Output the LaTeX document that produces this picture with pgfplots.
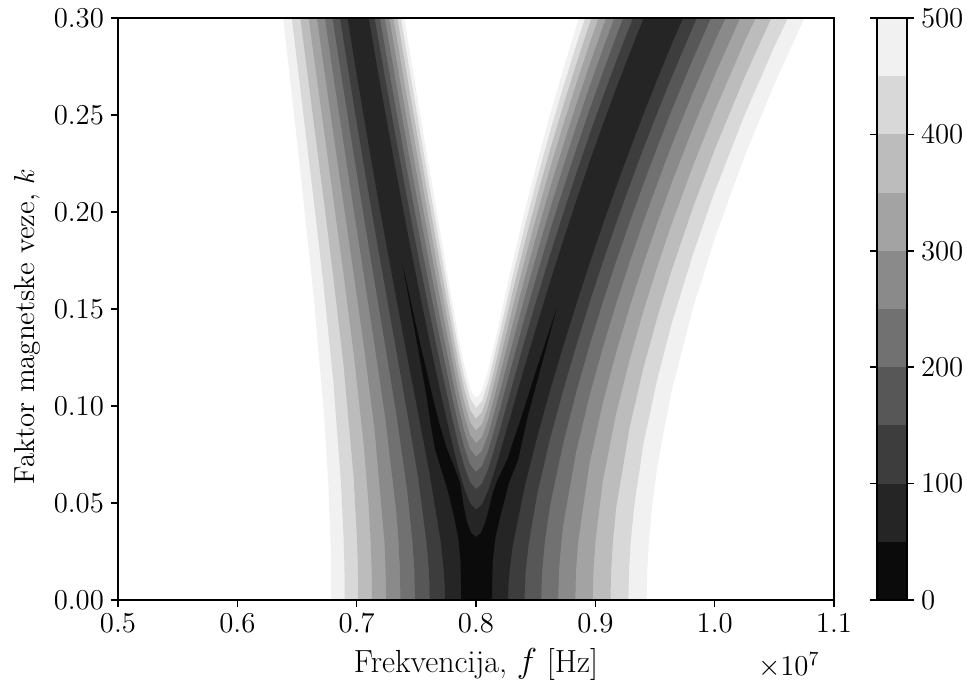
\documentclass[border=0pt]{standalone}
\usepackage{pgfplots}
\pgfplotsset{compat=1.18}
\definecolor{c0}{HTML}{0B0B0B}
\definecolor{c1}{HTML}{252525}
\definecolor{c2}{HTML}{3D3D3D}
\definecolor{c3}{HTML}{575757}
\definecolor{c4}{HTML}{717171}
\definecolor{c5}{HTML}{8A8A8A}
\definecolor{c6}{HTML}{A3A3A3}
\definecolor{c7}{HTML}{BCBCBC}
\definecolor{c8}{HTML}{D8D8D8}
\definecolor{c9}{HTML}{F1F1F1}
\begin{document}
\begin{tikzpicture}
\path[use as bounding box] (-59pt,-43.5pt) rectangle (424.5pt,300pt);
\begin{axis}[name=main, at={(0pt,0pt)}, anchor=south west, scale only axis,
  width=358pt, height=291pt,
  xmin=0.5, xmax=1.1, ymin=0, ymax=0.3,
  xtick={0.5,0.6,0.7,0.8,0.9,1.0,1.1},
  ytick={0,0.05,0.1,0.15,0.2,0.25,0.3},
  scaled x ticks=false, scaled y ticks=false,
  xticklabel style={/pgf/number format/fixed,/pgf/number format/fixed zerofill,/pgf/number format/precision=1},
  yticklabel style={/pgf/number format/fixed,/pgf/number format/fixed zerofill,/pgf/number format/precision=2},
  tick label style={font=\fontsize{14}{16}\selectfont},
  xlabel style={font=\fontsize{16}{19}\selectfont, yshift=-1pt},
  ylabel style={font=\fontsize{14.5}{17}\selectfont, at={(ticklabel cs:0.47)}},
  xlabel={Frekvencija, $f$ [Hz]},
  ylabel={Faktor magnetske veze, $k$},
  tick align=outside, tick pos=left,
  major tick length=3.5pt,
  every tick/.style={black, line width=0.8pt},
  axis line style={line width=0.8pt},
  axis on top]
% 450-500
\addplot[fill=c9, draw=none] coordinates {(0.6787,0) (0.6786,0.015) (0.6781,0.03) (0.6762,0.06) (0.6722,0.0991) (0.6639,0.1565) (0.6518,0.2267) (0.6400,0.2909) (0.6246,0.3740) (0.7331,0.3259) (0.7422,0.2912) (0.7516,0.2567) (0.7610,0.2221) (0.7706,0.1874) (0.7754,0.1701) (0.7803,0.1529) (0.7851,0.1362) (0.7901,0.1210) (0.7950,0.1094) (0.7975,0.1059) (0.8,0.1045) (0.8025,0.1052) (0.8050,0.1080) (0.8101,0.1180) (0.8151,0.1312) (0.8203,0.1454) (0.8254,0.1598) (0.8306,0.1739) (0.8410,0.2010) (0.8516,0.2265) (0.8622,0.2507) (0.8731,0.2736) (0.8840,0.2955) (0.8950,0.3165) (1.1012,0.3318) (1.0752,0.2999) (1.0497,0.2655) (1.0246,0.2280) (1.0000,0.1862) (0.9818,0.1505) (0.9639,0.1078) (0.9522,0.0700) (0.9479,0.05) (0.9448,0.03) (0.9435,0.015) (0.9430,0)};
% 400-450
\addplot[fill=c8, draw=none] coordinates {(0.6899,0) (0.6898,0.015) (0.6892,0.03) (0.6869,0.06) (0.6805,0.1122) (0.6722,0.1625) (0.6639,0.2066) (0.6518,0.2686) (0.6400,0.3288) (0.7331,0.3149) (0.7422,0.2808) (0.7516,0.2470) (0.7610,0.2132) (0.7706,0.1794) (0.7803,0.1459) (0.7851,0.1297) (0.7901,0.1151) (0.7950,0.1038) (0.8,0.0991) (0.8050,0.1025) (0.8101,0.1122) (0.8151,0.1250) (0.8203,0.1388) (0.8306,0.1664) (0.8410,0.1929) (0.8516,0.2180) (0.8622,0.2417) (0.8731,0.2644) (0.8840,0.2860) (0.8950,0.3068) (1.0752,0.3178) (1.0497,0.2849) (1.0246,0.2493) (1.0000,0.2105) (0.9818,0.1783) (0.9639,0.1423) (0.9522,0.1147) (0.9405,0.0812) (0.9329,0.05) (0.9296,0.03) (0.9282,0.015) (0.9277,0)};
% 350-400
\addplot[fill=c7, draw=none] coordinates {(0.7013,0) (0.7011,0.015) (0.7004,0.03) (0.6975,0.0628) (0.6890,0.1210) (0.6805,0.1661) (0.6722,0.2073) (0.6639,0.2467) (0.6518,0.3048) (0.7331,0.3035) (0.7422,0.2701) (0.7516,0.2369) (0.7610,0.2039) (0.7706,0.1710) (0.7803,0.1385) (0.7851,0.1229) (0.7901,0.1088) (0.7950,0.0980) (0.8,0.0934) (0.8050,0.0968) (0.8101,0.1061) (0.8151,0.1184) (0.8203,0.1318) (0.8306,0.1587) (0.8410,0.1845) (0.8516,0.2091) (0.8622,0.2325) (0.8731,0.2548) (0.8840,0.2762) (0.8950,0.2968) (0.9062,0.3166) (1.0497,0.3030) (1.0246,0.2689) (1.0000,0.2321) (0.9818,0.2023) (0.9639,0.1699) (0.9522,0.1463) (0.9405,0.1202) (0.9290,0.0898) (0.9175,0.0478) (0.9147,0.03) (0.9132,0.015) (0.9127,0)};
% 300-350
\addplot[fill=c6, draw=none] coordinates {(0.7128,0) (0.7126,0.015) (0.7118,0.03) (0.7099,0.05) (0.7062,0.0783) (0.6975,0.1268) (0.6890,0.1679) (0.6805,0.2065) (0.6722,0.2440) (0.6639,0.2812) (0.6518,0.3371) (0.7240,0.3248) (0.7331,0.2916) (0.7422,0.2588) (0.7516,0.2264) (0.7610,0.1942) (0.7706,0.1622) (0.7803,0.1307) (0.7851,0.1157) (0.7901,0.1021) (0.7950,0.0918) (0.8,0.0874) (0.8050,0.0906) (0.8101,0.0996) (0.8151,0.1115) (0.8203,0.1244) (0.8306,0.1505) (0.8410,0.1757) (0.8516,0.1998) (0.8622,0.2228) (0.8731,0.2449) (0.8840,0.2660) (0.8950,0.2864) (0.9062,0.3061) (1.0497,0.3201) (1.0246,0.2872) (1.0000,0.2520) (0.9818,0.2238) (0.9639,0.1937) (0.9522,0.1723) (0.9405,0.1494) (0.9290,0.1245) (0.9175,0.0964) (0.9062,0.0610) (0.9000,0.03) (0.8984,0.015) (0.8978,0)};
% 250-300
\addplot[fill=c5, draw=none] coordinates {(0.7246,0) (0.7243,0.015) (0.7233,0.03) (0.7150,0.0878) (0.7062,0.1301) (0.6975,0.1681) (0.6890,0.2044) (0.6805,0.2402) (0.6722,0.2760) (0.6639,0.3120) (0.7240,0.3118) (0.7331,0.2792) (0.7422,0.2471) (0.7516,0.2153) (0.7610,0.1839) (0.7706,0.1529) (0.7803,0.1225) (0.7851,0.1080) (0.7901,0.0950) (0.7950,0.0851) (0.8,0.0809) (0.8050,0.0840) (0.8101,0.0926) (0.8151,0.1040) (0.8203,0.1165) (0.8306,0.1418) (0.8410,0.1664) (0.8516,0.1900) (0.8622,0.2127) (0.8731,0.2344) (0.8840,0.2554) (0.8950,0.2756) (0.9062,0.2952) (0.9175,0.3141) (1.0246,0.3045) (1.0000,0.2705) (0.9818,0.2434) (0.9639,0.2149) (0.9522,0.1948) (0.9405,0.1738) (0.9290,0.1516) (0.9175,0.1278) (0.9062,0.1014) (0.8950,0.0701) (0.8856,0.03) (0.8838,0.015) (0.8832,0)};
% 200-250
\addplot[fill=c4, draw=none] coordinates {(0.7367,0) (0.7363,0.015) (0.7351,0.03) (0.7331,0.0462) (0.7240,0.0937) (0.7150,0.1315) (0.7062,0.1668) (0.6975,0.2013) (0.6890,0.2356) (0.6805,0.2700) (0.6722,0.3049) (0.7150,0.3308) (0.7240,0.2982) (0.7331,0.2661) (0.7422,0.2346) (0.7516,0.2036) (0.7610,0.1730) (0.7706,0.1428) (0.7803,0.1135) (0.7851,0.0997) (0.7901,0.0872) (0.7950,0.0778) (0.8,0.0739) (0.8050,0.0768) (0.8101,0.0851) (0.8151,0.0960) (0.8203,0.1080) (0.8306,0.1325) (0.8410,0.1565) (0.8516,0.1797) (0.8622,0.2019) (0.8731,0.2234) (0.8840,0.2442) (0.8950,0.2643) (0.9062,0.2838) (0.9175,0.3026) (1.0246,0.3209) (1.0000,0.2879) (0.9818,0.2617) (0.9639,0.2343) (0.9522,0.2152) (0.9405,0.1954) (0.9290,0.1747) (0.9175,0.1530) (0.9062,0.1300) (0.8950,0.1051) (0.8840,0.0767) (0.8731,0.0388) (0.8715,0.03) (0.8695,0.015) (0.8688,0)};
% 150-200
\addplot[fill=c3, draw=none] coordinates {(0.7489,0) (0.7484,0.015) (0.7468,0.03) (0.7422,0.0572) (0.7331,0.0965) (0.7240,0.1310) (0.7150,0.1641) (0.7062,0.1969) (0.6975,0.2299) (0.6890,0.2632) (0.6805,0.2970) (0.6722,0.3314) (0.7150,0.3159) (0.7240,0.2838) (0.7331,0.2523) (0.7422,0.2214) (0.7516,0.1910) (0.7610,0.1612) (0.7706,0.1320) (0.7803,0.1038) (0.7851,0.0905) (0.7901,0.0787) (0.7950,0.0698) (0.8,0.0661) (0.8050,0.0689) (0.8101,0.0767) (0.8151,0.0872) (0.8203,0.0987) (0.8306,0.1225) (0.8410,0.1459) (0.8516,0.1686) (0.8622,0.1906) (0.8731,0.2118) (0.8840,0.2324) (0.8950,0.2524) (0.9062,0.2718) (0.9175,0.2906) (0.9290,0.3089) (1.0000,0.3044) (0.9818,0.2790) (0.9639,0.2524) (0.9522,0.2339) (0.9405,0.2149) (0.9290,0.1952) (0.9175,0.1748) (0.9062,0.1535) (0.8950,0.1311) (0.8840,0.1073) (0.8731,0.0810) (0.8622,0.0493) (0.8577,0.03) (0.8554,0.015) (0.8546,0)};
% 100-150
\addplot[fill=c2, draw=none] coordinates {(0.7613,0) (0.7606,0.015) (0.7585,0.03) (0.7516,0.0629) (0.7422,0.0971) (0.7331,0.1289) (0.7240,0.1602) (0.7150,0.1917) (0.7062,0.2235) (0.6975,0.2557) (0.6890,0.2886) (0.6805,0.3221) (0.7062,0.3324) (0.7150,0.3000) (0.7240,0.2683) (0.7331,0.2374) (0.7422,0.2070) (0.7516,0.1773) (0.7610,0.1483) (0.7706,0.1200) (0.7803,0.0929) (0.7851,0.0802) (0.7901,0.0690) (0.7950,0.0607) (0.8,0.0572) (0.8050,0.0599) (0.8101,0.0673) (0.8151,0.0773) (0.8203,0.0883) (0.8306,0.1113) (0.8410,0.1342) (0.8516,0.1565) (0.8622,0.1782) (0.8731,0.1993) (0.8840,0.2198) (0.8950,0.2397) (0.9062,0.2590) (0.9175,0.2778) (0.9290,0.2961) (0.9405,0.3139) (1.0000,0.3203) (0.9818,0.2955) (0.9639,0.2695) (0.9522,0.2516) (0.9405,0.2331) (0.9290,0.2141) (0.9175,0.1944) (0.9062,0.1741) (0.8950,0.1531) (0.8840,0.1312) (0.8731,0.1082) (0.8622,0.0835) (0.8516,0.0556) (0.8444,0.03) (0.8416,0.015) (0.8406,0)};
% 50-100
\addplot[fill=c1, draw=none] coordinates {(0.7740,0) (0.7738,0.007) (0.7730,0.015) (0.7706,0.0296) (0.7610,0.0655) (0.7516,0.0961) (0.7422,0.1259) (0.7331,0.1558) (0.7240,0.1861) (0.7150,0.2169) (0.7062,0.2483) (0.6975,0.2803) (0.6890,0.3131) (0.7062,0.3143) (0.7150,0.2823) (0.7240,0.2511) (0.7331,0.2206) (0.7422,0.1909) (0.7516,0.1618) (0.7610,0.1335) (0.7706,0.1061) (0.7803,0.0801) (0.7851,0.0681) (0.7901,0.0576) (0.7950,0.0498) (0.8,0.0467) (0.8050,0.0492) (0.8101,0.0562) (0.8151,0.0656) (0.8203,0.0762) (0.8306,0.0984) (0.8410,0.1208) (0.8516,0.1428) (0.8622,0.1643) (0.8731,0.1853) (0.8840,0.2057) (0.8950,0.2256) (0.9062,0.2449) (0.9175,0.2638) (0.9290,0.2821) (0.9405,0.3000) (0.9522,0.3173) (0.9818,0.3118) (0.9639,0.2864) (0.9522,0.2688) (0.9405,0.2508) (0.9290,0.2322) (0.9175,0.2131) (0.9062,0.1935) (0.8950,0.1732) (0.8840,0.1524) (0.8731,0.1308) (0.8622,0.1084) (0.8516,0.0848) (0.8410,0.0592) (0.8306,0.0274) (0.8281,0.015) (0.8271,0.007) (0.8269,0)};
% 0-50
\addplot[fill=c0, draw=none] coordinates {(0.7875,0) (0.7874,0.01) (0.7870,0.02) (0.7852,0.032) (0.7816,0.0428) (0.7782,0.052) (0.7745,0.0603) (0.7700,0.069) (0.7656,0.0779) (0.7618,0.0915) (0.7585,0.1051) (0.7545,0.1191) (0.7504,0.1331) (0.7461,0.1474) (0.7418,0.1617) (0.7377,0.1744) (0.7426,0.1617) (0.7477,0.1474) (0.7528,0.1331) (0.7582,0.1191) (0.7635,0.1051) (0.7690,0.0915) (0.7756,0.0779) (0.7815,0.069) (0.7867,0.0603) (0.7880,0.055) (0.7898,0.048) (0.7925,0.040) (0.7960,0.0345) (0.8001,0.0325) (0.8042,0.0345) (0.8078,0.040) (0.8112,0.048) (0.8140,0.055) (0.8169,0.0603) (0.8212,0.066) (0.8260,0.0722) (0.8322,0.0837) (0.8385,0.0951) (0.8442,0.1063) (0.8499,0.1174) (0.8558,0.1283) (0.8616,0.1392) (0.8676,0.1503) (0.8628,0.1392) (0.8581,0.1283) (0.8533,0.1174) (0.8484,0.1063) (0.8435,0.0951) (0.8394,0.0837) (0.8352,0.0722) (0.8312,0.066) (0.8275,0.0603) (0.8242,0.052) (0.8202,0.0428) (0.8162,0.032) (0.8140,0.02) (0.8136,0.01) (0.8135,0)};
\end{axis}
\node[anchor=north east, font=\fontsize{14}{16}\selectfont, inner sep=0pt] at ([xshift=-7pt, yshift=-26pt]main.south east) {$\times10^{7}$};
\begin{axis}[at={(379.5pt,0pt)}, anchor=south west, scale only axis,
  width=15pt, height=291pt,
  xmin=0, xmax=1, ymin=0, ymax=500,
  xtick=\empty, ytick={0,100,200,300,400,500},
  yticklabel pos=right, tick align=outside,
  tick label style={font=\fontsize{14}{16}\selectfont},
  major tick length=3.5pt,
  every tick/.style={black, line width=0.8pt},
  axis line style={line width=0.8pt},
  axis on top]
\addplot[fill=c0, draw=none] coordinates {(0,0) (1,0) (1,50) (0,50)};
\addplot[fill=c1, draw=none] coordinates {(0,50) (1,50) (1,100) (0,100)};
\addplot[fill=c2, draw=none] coordinates {(0,100) (1,100) (1,150) (0,150)};
\addplot[fill=c3, draw=none] coordinates {(0,150) (1,150) (1,200) (0,200)};
\addplot[fill=c4, draw=none] coordinates {(0,200) (1,200) (1,250) (0,250)};
\addplot[fill=c5, draw=none] coordinates {(0,250) (1,250) (1,300) (0,300)};
\addplot[fill=c6, draw=none] coordinates {(0,300) (1,300) (1,350) (0,350)};
\addplot[fill=c7, draw=none] coordinates {(0,350) (1,350) (1,400) (0,400)};
\addplot[fill=c8, draw=none] coordinates {(0,400) (1,400) (1,450) (0,450)};
\addplot[fill=c9, draw=none] coordinates {(0,450) (1,450) (1,500) (0,500)};
\end{axis}
\end{tikzpicture}
\end{document}
